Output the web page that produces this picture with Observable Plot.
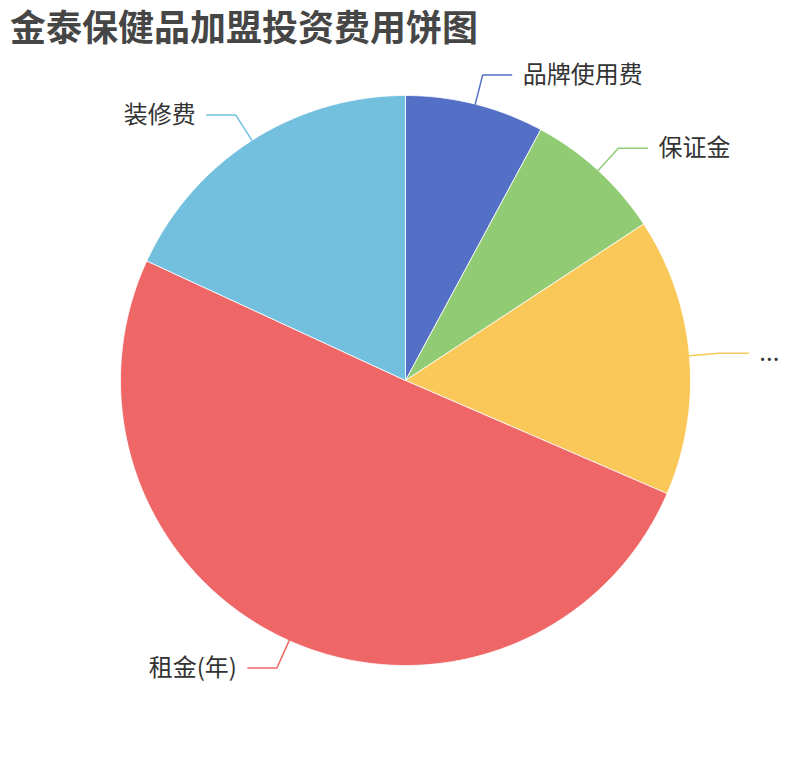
<!DOCTYPE html>
<html><head><meta charset="utf-8">
<script src="https://cdn.jsdelivr.net/npm/d3@7"></script>
<script src="https://cdn.jsdelivr.net/npm/@observablehq/plot@0.6"></script>
<style>
body{margin:0;background:#fff;font-family:"Noto Sans CJK SC","Noto Sans",sans-serif;}
#title{height:50px;line-height:50px;padding-left:10px;font-size:36px;font-weight:bold;color:#464646;white-space:nowrap;}
#chart svg{display:block;}
</style></head><body>
<div id="title">金泰保健品加盟投资费用饼图</div>
<div id="chart"></div>
<script>
const categories = ["品牌使用费", "保证金", "...", "租金(年)", "装修费"];
const values = [1, 1, 2, 6.4, 2.3];
const colors = ["#5470c6", "#91cc75", "#fac858", "#ee6666", "#73c0de"];

const R = 285;
const data = categories.map((name, i) => ({name, value: values[i]}));
const arcs = d3.pie().sort(null).value(d => d.value)(data);

// slice outlines
const slicePts = [];
for (const a of arcs) {
  const name = a.data.name;
  slicePts.push({name, x: 0, y: 0});
  const n = Math.max(2, Math.ceil((a.endAngle - a.startAngle) / (Math.PI / 360)));
  for (let k = 0; k <= n; k++) {
    const t = a.startAngle + (a.endAngle - a.startAngle) * k / n;
    slicePts.push({name, x: R * Math.sin(t), y: R * Math.cos(t)});
  }
  slicePts.push({name, x: 0, y: 0});
}

// leader lines & labels
const linePts = [];
const labels = [];
for (const a of arcs) {
  const name = a.data.name;
  const m = (a.startAngle + a.endAngle) / 2;
  const x1 = R * Math.sin(m), y1 = R * Math.cos(m);
  const x2 = (R + 30) * Math.sin(m), y2 = (R + 30) * Math.cos(m);
  const right = Math.sin(m) >= 0;
  const x3 = x2 + (right ? 29 : -29);
  linePts.push({name, x: x1, y: y1}, {name, x: x2, y: y2}, {name, x: x3, y: y2});
  labels.push({name, x: x3, y: y2, right});
}

const plot = Plot.plot({
  width: 810,
  height: 710,
  margin: 0,
  x: {domain: [-405, 405], axis: null},
  y: {domain: [-380, 330], axis: null},
  color: {domain: categories, range: colors},
  style: {fontFamily: '"Noto Sans CJK SC","Noto Sans",sans-serif', background: "#fff"},
  marks: [
    Plot.line(slicePts, {x: "x", y: "y", z: "name", fill: "name", stroke: "#fff", strokeWidth: 0.8, strokeLinejoin: "round"}),
    Plot.line(linePts, {x: "x", y: "y", z: "name", stroke: "name", strokeWidth: 1.5}),
    Plot.text(labels.filter(d => d.right), {x: "x", y: "y", text: "name", textAnchor: "start", dx: 11, fontSize: 24, fill: "#333"}),
    Plot.text(labels.filter(d => !d.right), {x: "x", y: "y", text: "name", textAnchor: "end", dx: -11, fontSize: 24, fill: "#333"})
  ]
});
document.getElementById("chart").appendChild(plot);
</script>
</body></html>
